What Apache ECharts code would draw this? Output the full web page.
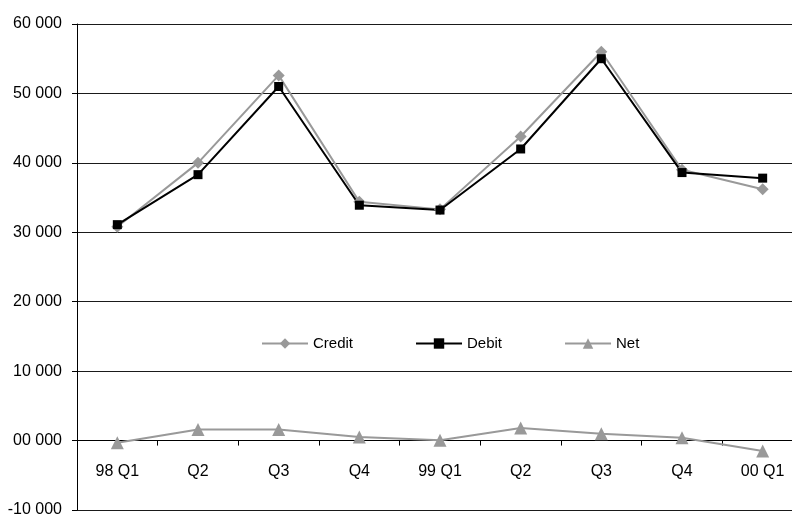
<!DOCTYPE html>
<html>
<head>
<meta charset="utf-8">
<script src="https://cdn.jsdelivr.net/npm/echarts@6/dist/echarts.min.js"></script>
<style>
  html, body { margin: 0; padding: 0; background: #fff; }
  #chart { width: 792px; height: 515px; }
</style>
</head>
<body>
<div id="chart"></div>
<script>
// Quarterly flows, 1998 Q1 to 2000 Q1
const quarters = ['98 Q1', 'Q2', 'Q3', 'Q4', '99 Q1', 'Q2', 'Q3', 'Q4', '00 Q1'];
const credit = [30800, 40000, 52600, 34400, 33300, 43800, 56000, 39000, 36200];
const debit  = [31100, 38300, 51000, 33900, 33200, 42000, 55000, 38600, 37800];
const net    = [-300, 1600, 1600, 500, 50, 1800, 1000, 400, -1500];

const FONT = "'Liberation Sans', Arial, sans-serif";
const Y_MIN = -10000, Y_MAX = 60000;
const GRID_TOP = 24, GRID_BOTTOM = 5, CHART_H = 515;

function fmtThousands(v) {
  if (v === 0) return '00 000';
  const sign = v < 0 ? '-' : '';
  const s = String(Math.abs(v));
  return sign + s.replace(/\B(?=(\d{3})+(?!\d))/g, ' ');
}

// distance from the plot bottom up to the zero line, so the category
// labels can sit just under the zero axis
const plotH = CHART_H - GRID_TOP - GRID_BOTTOM;
const zeroLift = plotH * (0 - Y_MIN) / (Y_MAX - Y_MIN);

const chart = echarts.init(document.getElementById('chart'), null, { renderer: 'canvas' });

chart.setOption({
  animation: false,
  backgroundColor: '#ffffff',
  textStyle: { fontFamily: FONT, color: '#000' },
  grid: { left: 77, right: -11, top: GRID_TOP, bottom: GRID_BOTTOM, containLabel: false, outerBoundsMode: 'none' },
  legend: {
    left: 261,
    top: 336,
    padding: 0,
    itemWidth: 46,
    itemHeight: 13,
    itemGap: 62,
    textStyle: { fontFamily: FONT, fontSize: 15, color: '#000' },
    data: ['Credit', 'Debit', 'Net']
  },
  xAxis: [
    {
      type: 'category',
      data: quarters,
      boundaryGap: true,
      axisLine: { onZero: true, lineStyle: { color: '#000', width: 1 } },
      axisTick: { show: true, length: 5, inside: false, alignWithLabel: false, lineStyle: { color: '#000' } },
      axisLabel: { show: false },
      splitLine: { show: false }
    },
    {
      type: 'category',
      data: quarters,
      boundaryGap: true,
      position: 'bottom',
      offset: -zeroLift,
      axisLine: { show: false, onZero: false },
      axisTick: { show: false },
      axisLabel: { margin: 23, fontFamily: FONT, fontSize: 16, color: '#000' },
      splitLine: { show: false }
    }
  ],
  yAxis: {
    type: 'value',
    min: Y_MIN,
    max: Y_MAX,
    interval: 10000,
    axisLine: { show: true, lineStyle: { color: '#000', width: 1 } },
    axisTick: { show: true, length: 5, lineStyle: { color: '#000' } },
    axisLabel: { margin: 15, fontFamily: FONT, fontSize: 16, color: '#000', formatter: fmtThousands },
    splitLine: { show: true, lineStyle: { color: '#1a1a1a', width: 1 } }
  },
  series: [
    {
      name: 'Credit',
      type: 'line',
      data: credit,
      symbol: 'diamond',
      symbolSize: 12,
      showAllSymbol: true,
      lineStyle: { color: '#999999', width: 2 },
      itemStyle: { color: '#999999' }
    },
    {
      name: 'Debit',
      type: 'line',
      data: debit,
      symbol: 'rect',
      symbolSize: 9,
      showAllSymbol: true,
      lineStyle: { color: '#000000', width: 2 },
      itemStyle: { color: '#000000' }
    },
    {
      name: 'Net',
      type: 'line',
      data: net,
      symbol: 'triangle',
      symbolSize: 13,
      showAllSymbol: true,
      lineStyle: { color: '#999999', width: 2 },
      itemStyle: { color: '#999999' }
    }
  ]
});
</script>
</body>
</html>
